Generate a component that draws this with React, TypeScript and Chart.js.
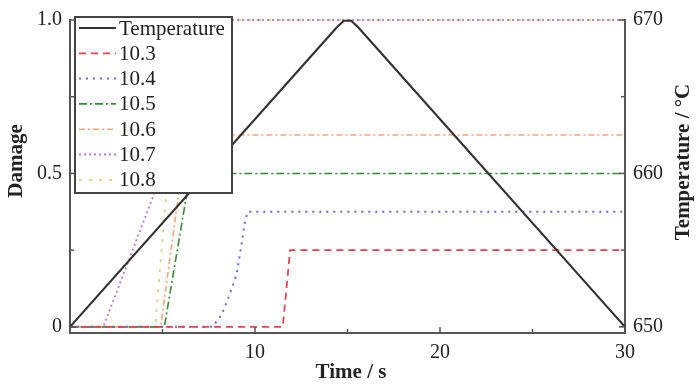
import React, { useEffect, useRef } from "react";
import { Chart, registerables } from "chart.js";

Chart.register(...registerables);

// ---- data ----
const timeTemp = [0, 14.4, 14.8, 15.2, 15.6, 30];
const tempValues = [650, 669.5, 669.95, 669.95, 669.5, 650];

const t103 = [0, 11.5, 11.9, 30];
const d103 = [0, 0, 0.25, 0.25];
const t104 = [0, 7.7, 8.2, 8.6, 9.0, 9.25, 9.45, 9.6, 30];
const d104 = [0, 0, 0.04, 0.1, 0.17, 0.26, 0.34, 0.375, 0.375];
const t105 = [0, 5.1, 6.5, 30];
const d105 = [0, 0, 0.5, 0.5];
const t106 = [0, 4.9, 6.3, 30];
const d106 = [0, 0, 0.625, 0.625];
const t107 = [0, 1.8, 4.4, 8.0, 30];
const d107 = [0, 0, 0.41, 1, 1];
const t108 = [0, 4.6, 6.0, 30];
const d108 = [0, 0, 1, 1];

const seriesLabels = ["Temperature", "10.3", "10.4", "10.5", "10.6", "10.7", "10.8"];
const xTicks = [10, 20, 30];
const xMinor = [5, 15, 25];
const yTicks = [0, 0.5, 1.0];
const yMinor = [0.25, 0.75];
const y2Ticks = [650, 660, 670];
const y2Minor = [655, 665];

const SERIF = "'Liberation Serif', 'Times New Roman', serif";

const pts = (xs: number[], ys: number[]) => xs.map((x, i) => ({ x, y: ys[i] }));

const customPlugin = {
  id: "custom",
  afterDraw(chart: any) {
    const ctx = chart.ctx;
    const { x, y, y2 } = chart.scales;
    const area = chart.chartArea;
    ctx.save();
    // ticks inward
    ctx.strokeStyle = "#555";
    ctx.lineWidth = 1.5;
    const tick = (x1: number, y1: number, x2: number, y2_: number) => {
      ctx.beginPath();
      ctx.moveTo(x1, y1);
      ctx.lineTo(x2, y2_);
      ctx.stroke();
    };
    xTicks.forEach((v) => { const px = x.getPixelForValue(v); tick(px, area.bottom, px, area.bottom - 6); });
    xMinor.forEach((v) => { const px = x.getPixelForValue(v); tick(px, area.bottom, px, area.bottom - 4); });
    yTicks.forEach((v) => { const py = y.getPixelForValue(v); tick(area.left, py, area.left + 6, py); });
    yMinor.forEach((v) => { const py = y.getPixelForValue(v); tick(area.left, py, area.left + 4, py); });
    y2Ticks.forEach((v) => { const py = y2.getPixelForValue(v); tick(area.right, py, area.right - 6, py); });
    y2Minor.forEach((v) => { const py = y2.getPixelForValue(v); tick(area.right, py, area.right - 4, py); });

    // titles
    ctx.fillStyle = "#222";
    ctx.font = `bold 21px ${SERIF}`;
    ctx.textAlign = "center";
    ctx.textBaseline = "middle";
    ctx.fillText("Time / s", 351, 373);
    ctx.save();
    ctx.translate(17, 161);
    ctx.rotate(-Math.PI / 2);
    ctx.fillText("Damage", 0, 0);
    ctx.restore();
    ctx.save();
    ctx.translate(684, 162);
    ctx.rotate(-Math.PI / 2);
    ctx.fillText("Temperature / °C", 0, 0);
    ctx.restore();

    // legend
    const lx = 75, ly = 17, lw = 157, lh = 176;
    ctx.fillStyle = "#fff";
    ctx.fillRect(lx, ly, lw, lh);
    ctx.strokeStyle = "#444";
    ctx.lineWidth = 2;
    ctx.strokeRect(lx, ly, lw, lh);
    ctx.font = `21px ${SERIF}`;
    ctx.textAlign = "left";
    chart.data.datasets.forEach((ds: any, i: number) => {
      const ry = 28 + i * 25.3;
      ctx.save();
      ctx.strokeStyle = ds.borderColor;
      ctx.lineWidth = ds.borderWidth;
      ctx.setLineDash(ds.borderDash || []);
      ctx.beginPath();
      ctx.moveTo(79, ry);
      ctx.lineTo(116, ry);
      ctx.stroke();
      ctx.restore();
      ctx.fillStyle = "#222";
      ctx.fillText(ds.label, 119, ry + 1);
    });
    ctx.restore();
  },
};

export default function App() {
  const ref = useRef<HTMLCanvasElement | null>(null);
  useEffect(() => {
    if (!ref.current) return;
    const mk = (label: string, data: any, color: string, dash: number[], width: number, axis: string) => ({
      label,
      data,
      borderColor: color,
      backgroundColor: color,
      borderDash: dash,
      borderWidth: width,
      pointRadius: 0,
      tension: 0,
      fill: false,
      clip: 4,
      yAxisID: axis,
    });
    const chart = new Chart(ref.current, {
      type: "line",
      data: {
        datasets: [
          mk(seriesLabels[0], pts(timeTemp, tempValues), "#333333", [], 2.2, "y2"),
          mk(seriesLabels[1], pts(t103, d103), "#e0474c", [7, 5], 1.8, "y"),
          mk(seriesLabels[2], pts(t104, d104), "#6a6ad0", [2, 5], 2, "y"),
          mk(seriesLabels[3], pts(t105, d105), "#3a8a3a", [8, 3, 2, 3], 1.6, "y"),
          mk(seriesLabels[4], pts(t106, d106), "#f2a87c", [6, 3, 2, 3], 1.6, "y"),
          mk(seriesLabels[5], pts(t107, d107), "#b97ad6", [2, 3], 1.8, "y"),
          mk(seriesLabels[6], pts(t108, d108), "#d4d488", [3, 7], 1.8, "y"),
        ],
      },
      options: {
        responsive: false,
        animation: false,
        layout: { padding: { top: 17, left: 0, right: 0, bottom: 0 } },
        plugins: { legend: { display: false }, tooltip: { enabled: false } },
        scales: {
          x: {
            type: "linear",
            min: 0,
            max: 30,
            afterBuildTicks: (s: any) => { s.ticks = xTicks.map((v) => ({ value: v })); },
            afterFit: (s: any) => { s.height = 54; },
            grid: { display: false, drawTicks: false },
            border: { display: true, color: "#555", width: 2 },
            ticks: { padding: 8, color: "#222", font: { family: SERIF, size: 20 }, callback: (v: any) => String(v), maxRotation: 0 },
          },
          y: {
            type: "linear",
            position: "left",
            min: -0.02,
            max: 1.0,
            afterBuildTicks: (s: any) => { s.ticks = yTicks.map((v) => ({ value: v })); },
            afterFit: (s: any) => { s.width = 70; },
            grid: { display: false, drawTicks: false },
            border: { display: true, color: "#555", width: 2 },
            ticks: { padding: 8, color: "#222", font: { family: SERIF, size: 20 }, callback: (v: any) => (v === 0 ? "0" : Number(v).toFixed(1)) },
          },
          y2: {
            type: "linear",
            position: "right",
            min: 649.6,
            max: 670,
            afterBuildTicks: (s: any) => { s.ticks = y2Ticks.map((v) => ({ value: v })); },
            afterFit: (s: any) => { s.width = 75; },
            grid: { display: false, drawTicks: false },
            border: { display: true, color: "#555", width: 2 },
            ticks: { padding: 8, color: "#222", font: { family: SERIF, size: 20 }, callback: (v: any) => String(v) },
          },
        },
      },
      plugins: [customPlugin],
    } as any);
    return () => chart.destroy();
  }, []);
  return (
    <div style={{ position: "absolute", left: 0, top: 0, width: 700, height: 387, background: "#fff" }}>
      <canvas ref={ref} width={700} height={387} style={{ display: "block" }} />
    </div>
  );
}
